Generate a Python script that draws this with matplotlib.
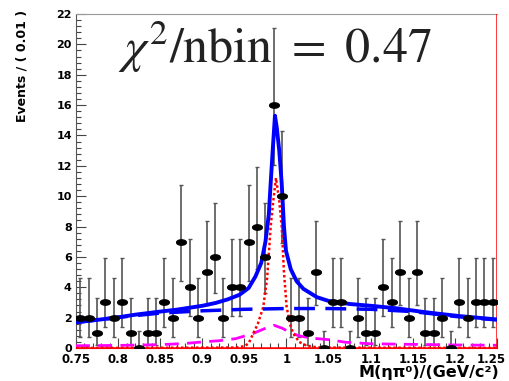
import numpy as np
import matplotlib
matplotlib.use("Agg")
import matplotlib.pyplot as plt
from matplotlib.ticker import MultipleLocator, FuncFormatter, FormatStrFormatter

# binned data, 0.01 wide bins from 0.75 to 1.25
bin_lo = 0.75
bin_width = 0.01
counts = [2, 2, 1, 3, 2, 3, 1, 0, 1, 1,
          3, 2, 7, 4, 2, 5, 6, 2, 4, 4,
          7, 8, 6, 16, 10, 2, 2, 1, 5, 0,
          3, 3, 0, 2, 1, 1, 4, 3, 5, 2,
          5, 1, 1, 2, 0, 3, 2, 3, 3, 3]

# poisson 68% intervals (lower, upper) by count, as RooFit draws them
poisson_band = {0: (0.0, 1.148), 1: (0.173, 3.300), 2: (0.708, 4.638),
                3: (1.367, 5.918), 4: (2.086, 7.163), 5: (2.840, 8.382),
                6: (3.620, 9.583), 7: (4.418, 10.769), 8: (5.231, 11.943),
                10: (6.889, 14.265), 16: (12.05, 21.08)}

# fit curves
total_x = [0.75, 0.775, 0.80, 0.821, 0.85, 0.869, 0.90, 0.916, 0.93, 0.944,
           0.955, 0.963, 0.970, 0.975, 0.979, 0.9812, 0.9836, 0.9863, 0.9885,
           0.9914, 0.9943, 0.997, 0.9994, 1.005, 1.012, 1.02, 1.036, 1.05,
           1.075, 1.10, 1.13, 1.159, 1.18, 1.206, 1.25]
total_y = [1.70, 1.85, 2.02, 2.20, 2.40, 2.52, 2.78, 2.97, 3.20, 3.50,
           3.95, 4.70, 5.60, 7.00, 8.80, 10.85, 13.0, 15.3, 14.5,
           13.0, 10.85, 8.0, 6.4, 5.2, 4.4, 3.9, 3.35, 3.1,
           2.9, 2.78, 2.62, 2.40, 2.26, 2.10, 1.88]

bkg_x = [0.75, 0.80, 0.85, 0.90, 0.95, 1.00, 1.05, 1.10, 1.15, 1.20, 1.25]
bkg_y = [1.68, 2.02, 2.30, 2.45, 2.55, 2.60, 2.60, 2.55, 2.40, 2.08, 1.85]

mag_x = [0.75, 0.80, 0.85, 0.88, 0.90, 0.92, 0.94, 0.96, 0.975, 0.985,
         0.995, 1.005, 1.015, 1.03, 1.05, 1.07, 1.10, 1.15, 1.20, 1.25]
mag_y = [0.15, 0.17, 0.22, 0.30, 0.40, 0.48, 0.62, 0.95, 1.30, 1.50,
         1.30, 1.00, 0.80, 0.65, 0.55, 0.38, 0.28, 0.24, 0.20, 0.18]

sig_x = [0.75, 0.94, 0.95, 0.955, 0.96, 0.966, 0.9724, 0.977, 0.9812, 0.9843,
         0.9875, 0.9914, 0.9943, 0.997, 1.0002, 1.004, 1.008, 1.015, 1.025,
         1.04, 1.25]
sig_y = [0.0, 0.03, 0.12, 0.30, 0.90, 1.60, 2.70, 4.60, 8.0, 9.7,
         11.2, 9.7, 8.0, 5.0, 2.7, 1.6, 0.96, 0.40, 0.12,
         0.03, 0.0]

x_max = 1.25

centers = bin_lo + bin_width * (np.arange(len(counts)) + 0.5)
n = np.array(counts)
err_lo = np.array([n_i - poisson_band[n_i][0] for n_i in counts])
err_hi = np.array([poisson_band[n_i][1] - n_i for n_i in counts])

plt.rcParams['mathtext.fontset'] = 'stix'
fig = plt.figure(figsize=(5.1, 3.81), dpi=100)
ax = fig.add_axes([0.149, 0.0866, 0.8255, 0.8766])

t = np.linspace(0, 2 * np.pi, 40)
ellipse = list(zip(np.cos(t), 0.55 * np.sin(t)))

ax.errorbar(centers, n, yerr=[err_lo, err_hi], fmt='none', ecolor='#555555',
            elinewidth=1.2, capsize=1.5, capthick=1.0, zorder=2)
ax.plot(centers, n, linestyle='none', marker=ellipse, markersize=7,
        color='black', zorder=5)

ax.plot(mag_x, mag_y, color='#ff00ff', lw=2, ls=(0, (5, 3)), zorder=3)
ax.plot(sig_x, sig_y, color='red', lw=1.8, ls=(0, (1, 1)), zorder=3)
ax.plot(bkg_x, bkg_y, color='blue', lw=2.5, ls=(0, (6, 3)), zorder=4)
ax.plot(total_x, total_y, color='blue', lw=2.8, zorder=4)
ax.axhline(0, color='red', lw=1.8, zorder=3)
ax.axvline(x_max, color='red', lw=1.8, zorder=3)

ax.set_xlim(bin_lo, x_max)
ax.set_ylim(0, 22)

def xfmt(v, pos):
    # last label is drawn by hand a bit to the left so it stays on the canvas
    if abs(v - x_max) < 1e-6:
        return ''
    return '%g' % v

ax.xaxis.set_major_locator(MultipleLocator(0.05))
ax.xaxis.set_minor_locator(MultipleLocator(0.01))
ax.yaxis.set_major_locator(MultipleLocator(2))
ax.yaxis.set_minor_locator(MultipleLocator(0.4))
ax.xaxis.set_major_formatter(FuncFormatter(xfmt))
ax.yaxis.set_major_formatter(FormatStrFormatter('%g'))
ax.tick_params(which='both', direction='in', top=False, right=False,
               color='#444444', width=0.8)
ax.tick_params(which='major', length=7)
ax.tick_params(which='minor', length=3.5)
ax.tick_params(axis='x', labelsize=8.5, pad=3.5)
ax.tick_params(axis='y', labelsize=8, pad=3)
for lab in ax.get_xticklabels() + ax.get_yticklabels():
    lab.set_fontweight('bold')
ax.annotate('%g' % x_max, xy=(x_max, 0), xycoords=('data', 'axes fraction'),
            xytext=(-4, -3.5), textcoords='offset points', ha='center',
            va='top', fontsize=8.5, fontweight='bold', annotation_clip=False)

ax.spines['right'].set_visible(False)
ax.spines['top'].set_color('#999999')
ax.spines['left'].set_color('#555555')
ax.spines['bottom'].set_color('red')

fig.text(22 / 510, 1 - 10 / 381, 'Events / ( 0.01 )', rotation=90,
         ha='center', va='top', fontsize=9, fontweight='bold')
fig.text(499 / 510, 1 - 377 / 381, 'M(ηπ⁰)/(GeV/c²)', ha='right',
         va='baseline', fontsize=11.5, fontweight='bold')

fig.text(118 / 510, 1 - 63 / 381, r'$\chi^{2}/\mathrm{nbin}\ =\ 0.47$',
         ha='left', va='baseline', fontsize=36, color='#222222')

fig.savefig('out.png', dpi=100)
